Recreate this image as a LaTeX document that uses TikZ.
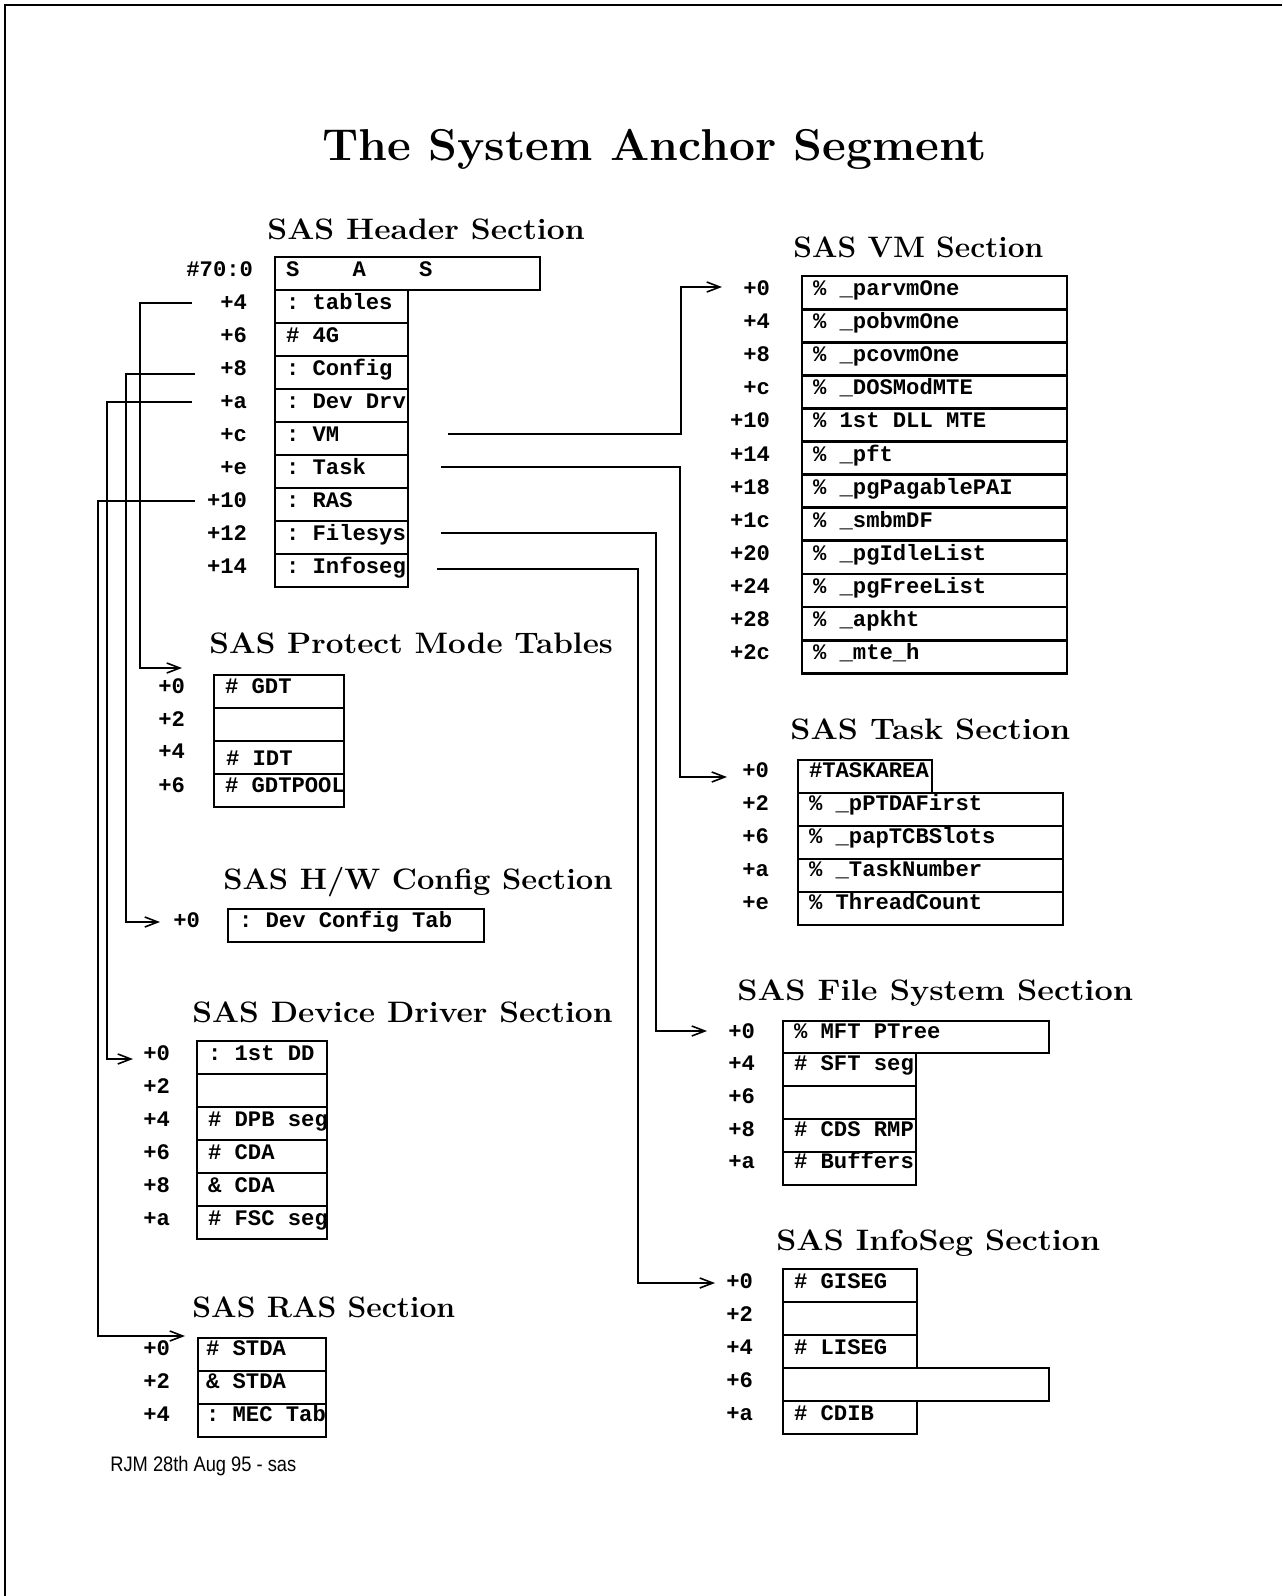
\documentclass[tikz,border=0pt]{standalone}
\usepackage{fontspec}
\setmonofont{Liberation Mono}
\newfontfamily\footfont{Liberation Sans}
\usetikzlibrary{arrows.meta}
\newcommand\monofnt{\fontsize{11.1}{12}\selectfont\ttfamily\bfseries}
\tikzset{
  cellbox/.style={draw, rectangle, line width=1.4pt, inner sep=0pt, outer sep=0pt},
  thinbox/.style={cellbox, line width=1pt},
  celltext/.style={font=\monofnt, inner sep=0pt, outer sep=0pt, anchor=base west},
  offs/.style={font=\monofnt, inner sep=0pt, outer sep=0pt, anchor=base east},
  heading/.style={font=\fontsize{14.8}{16}\selectfont\bfseries, inner sep=0pt, anchor=base west},
  conn/.style={line width=0.8pt},
  arr/.style={conn, -{Straight Barb[length=6.5pt,width=5pt]}}
}
% name, x, top y, width, height, text, label right x, baseline offset, label
\newcommand\mcell[9]{%
  \node[cellbox, minimum width=#4*0.5pt, minimum height=#5*0.5pt, anchor=north west] (#1) at (#2,#3) {};
  \node[celltext] (#1t) at ({#2+11},{#3+#8}) {#6};
  \node[offs] (#1o) at ({#7},{#3+#8}) {#9};
}
\newcommand\tcell[9]{%
  \node[thinbox, minimum width=#4*0.5pt, minimum height=#5*0.5pt, anchor=north west] (#1) at (#2,#3) {};
  \node[celltext] (#1t) at ({#2+8},{#3+#8}) {#6};
  \node[offs] (#1o) at ({#7},{#3+#8}) {#9};
}
\begin{document}
\begin{tikzpicture}[x=0.5pt, y=-0.5pt]
\useasboundingbox (0,0) rectangle (1282,1596);
% frame
\draw[line width=1.2pt] (5,1596) -- (5,5) -- (1282,5);

% title
\node[font=\fontsize{22.3}{26}\selectfont\bfseries, inner sep=0pt, anchor=base west] (title) at (322,160) {\scalebox{1.037}[1]{The System Anchor Segment}};

% ---------------- Header ----------------
\node[heading] (hdrT) at (267,239) {\scalebox{1.076}[1]{SAS Header Section}};
\mcell{h0}{275}{257}{265}{33}{S~~~~A~~~~S}{253}{19.5}{\#70:0}
\mcell{h1}{275}{290}{133}{33}{: tables}{247}{19.5}{+4}
\mcell{h2}{275}{323}{133}{33}{\# 4G}{247}{19.5}{+6}
\mcell{h3}{275}{356}{133}{33}{: Config}{247}{19.5}{+8}
\mcell{h4}{275}{389}{133}{33}{: Dev Drv}{247}{19.5}{+a}
\mcell{h5}{275}{422}{133}{33}{: VM}{247}{19.5}{+c}
\mcell{h6}{275}{455}{133}{33}{: Task}{247}{19.5}{+e}
\mcell{h7}{275}{488}{133}{33}{: RAS}{247}{19.5}{+10}
\mcell{h8}{275}{521}{133}{33}{: Filesys}{247}{19.5}{+12}
\mcell{h9}{275}{554}{133}{33}{: Infoseg}{247}{19.5}{+14}

% ---------------- VM ----------------
\node[heading] (vmT) at (793,257) {\scalebox{1.012}[1]{SAS VM Section}};
\mcell{v0}{802}{276}{265}{33.1}{\% \_parvmOne}{770}{19.5}{+0}
\mcell{v1}{802}{309.1}{265}{33.1}{\% \_pobvmOne}{770}{19.5}{+4}
\mcell{v2}{802}{342.2}{265}{33.1}{\% \_pcovmOne}{770}{19.5}{+8}
\mcell{v3}{802}{375.3}{265}{33.1}{\% \_DOSModMTE}{770}{19.5}{+c}
\mcell{v4}{802}{408.4}{265}{33.1}{\% 1st DLL MTE}{770}{19.5}{+10}
\mcell{v5}{802}{441.5}{265}{33.1}{\% \_pft}{770}{19.5}{+14}
\mcell{v6}{802}{474.6}{265}{33.1}{\% \_pgPagablePAI}{770}{19.5}{+18}
\mcell{v7}{802}{507.7}{265}{33.1}{\% \_smbmDF}{770}{19.5}{+1c}
\mcell{v8}{802}{540.8}{265}{33.1}{\% \_pgIdleList}{770}{19.5}{+20}
\mcell{v9}{802}{573.9}{265}{33.1}{\% \_pgFreeList}{770}{19.5}{+24}
\mcell{v10}{802}{607}{265}{33.1}{\% \_apkht}{770}{19.5}{+28}
\mcell{v11}{802}{640.1}{265}{33.1}{\% \_mte\_h}{770}{19.5}{+2c}

% ---------------- Protect Mode Tables ----------------
\node[heading] (pmT) at (209,653) {\scalebox{1.062}[1]{SAS Protect Mode Tables}};
\mcell{p0}{214}{675}{130}{33}{\# GDT}{185}{18.5}{+0}
\mcell{p1}{214}{708}{130}{33}{}{185}{18}{+2}
\node[cellbox, minimum width=130*0.5pt, minimum height=33*0.5pt, anchor=north west] (p2) at (214,741) {};
\node[celltext] (p2t) at (226,765) {\# IDT};
\node[offs] (p2o) at (185,758) {+4};
\mcell{p3}{214}{774}{130}{33}{\# GDTPOOL}{185}{18.5}{+6}

% ---------------- H/W Config ----------------
\node[heading] (hwT) at (223,889) {\scalebox{1.044}[1]{SAS H/W Config Section}};
\mcell{w0}{228}{909}{256}{33}{: Dev Config Tab}{200}{18}{+0}

% ---------------- Device Driver ----------------
\node[heading] (ddT) at (192,1022) {\scalebox{1.07}[1]{SAS Device Driver Section}};
\mcell{d0}{197}{1041}{130}{33}{: 1st DD}{170}{19}{+0}
\mcell{d1}{197}{1074}{130}{33}{}{170}{19}{+2}
\mcell{d2}{197}{1107}{130}{33}{\# DPB seg}{170}{19}{+4}
\mcell{d3}{197}{1140}{130}{33}{\# CDA}{170}{19}{+6}
\mcell{d4}{197}{1173}{130}{33}{\& CDA}{170}{19}{+8}
\mcell{d5}{197}{1206}{130}{33}{\# FSC seg}{170}{19}{+a}

% ---------------- RAS ----------------
\node[heading] (rasT) at (192,1317) {\scalebox{1.016}[1]{SAS RAS Section}};
\tcell{r0}{198}{1338}{128}{33}{\# STDA}{170}{17.5}{+0}
\tcell{r1}{198}{1371}{128}{33}{\& STDA}{170}{17.5}{+2}
\tcell{r2}{198}{1404}{128}{33}{: MEC Tab}{170}{17.5}{+4}

% ---------------- Task ----------------
\node[heading] (tkT) at (790,739) {\scalebox{1.087}[1]{SAS Task Section}};
\mcell{k0}{798}{760}{134}{33}{\#TASKAREA}{769}{17.5}{+0}
\mcell{k1}{798}{793}{265}{33}{\% \_pPTDAFirst}{769}{17.5}{+2}
\mcell{k2}{798}{826}{265}{33}{\% \_papTCBSlots}{769}{17.5}{+6}
\mcell{k3}{798}{859}{265}{33}{\% \_TaskNumber}{769}{17.5}{+a}
\mcell{k4}{798}{892}{265}{33}{\% ThreadCount}{769}{17.5}{+e}

% ---------------- File System ----------------
\node[heading] (fsT) at (737,1000) {\scalebox{1.096}[1]{SAS File System Section}};
\mcell{f0}{783}{1021}{266}{32}{\% MFT PTree}{755}{17}{+0}
\mcell{f1}{783}{1053}{133}{33}{\# SFT seg}{755}{17.5}{+4}
\mcell{f2}{783}{1086}{133}{33}{}{755}{17.5}{+6}
\mcell{f3}{783}{1119}{133}{33}{\# CDS RMP}{755}{17}{+8}
\mcell{f4}{783}{1152}{133}{33}{\# Buffers}{755}{16.5}{+a}

% ---------------- InfoSeg ----------------
\node[heading] (isT) at (776,1250) {\scalebox{1.085}[1]{SAS InfoSeg Section}};
\mcell{i0}{783}{1269}{134}{33}{\# GISEG}{753}{19}{+0}
\mcell{i1}{783}{1302}{134}{33}{}{753}{19}{+2}
\mcell{i2}{783}{1335}{134}{33}{\# LISEG}{753}{19}{+4}
\mcell{i4}{783}{1401}{134}{33}{\# CDIB}{753}{19}{+a}
\mcell{i3}{783}{1368}{266}{33}{}{753}{19}{+6}

% ---------------- connectors ----------------
\coordinate (s4) at (192,303);   \coordinate (e4) at (182,668);
\coordinate (s8) at (195,374);   \coordinate (e8) at (160,922);
\coordinate (sa) at (192,402);   \coordinate (ea) at (133,1059);
\coordinate (s10) at (195,501);  \coordinate (e10) at (185,1336);
\coordinate (svm) at (448,434);  \coordinate (evm) at (722,287);
\coordinate (stk) at (441,467);  \coordinate (etk) at (727,777);
\coordinate (sfs) at (441,533);  \coordinate (efs) at (707,1031);
\coordinate (sis) at (437,569);  \coordinate (eis) at (715,1283);

\draw[arr] (s4) -- ++(-52,0) |- (e4);
\draw[arr] (s8) -- ++(-69,0) |- (e8);
\draw[arr] (sa) -- ++(-85,0) |- (ea);
\draw[arr] (s10) -- ++(-97,0) |- (e10);
\draw[arr] (svm) -- ++(233,0) |- (evm);
\draw[arr] (stk) -- ++(239,0) |- (etk);
\draw[arr] (sfs) -- ++(215,0) |- (efs);
\draw[arr] (sis) -- ++(201,0) |- (eis);

% footer
\node[font=\footfont\fontsize{10.5}{12}\selectfont, inner sep=0pt, anchor=base west] (foot) at (110,1471) {\scalebox{0.87}[1]{RJM 28th Aug 95 - sas}};
\end{tikzpicture}
\end{document}
